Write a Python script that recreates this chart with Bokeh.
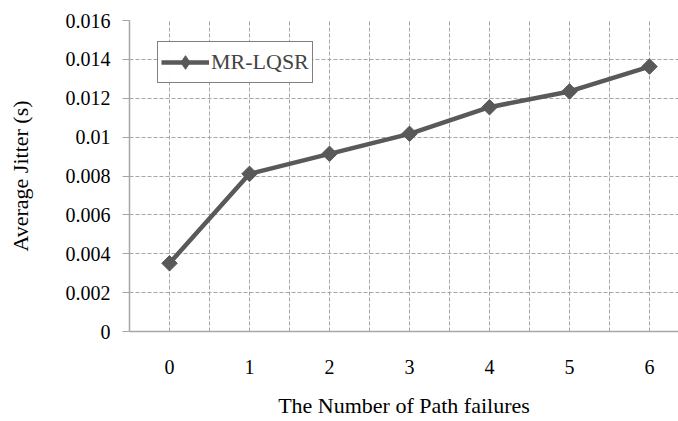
import math
from bokeh.plotting import figure
from bokeh.models import FixedTicker, Range1d, Legend, LegendItem, ColumnDataSource
from bokeh.embed import file_html
from bokeh.resources import INLINE

failures = [0, 1, 2, 3, 4, 5, 6]
jitter = [0.00351, 0.00811, 0.00914, 0.01017, 0.01154, 0.01235, 0.01363]
y_ticks = [0, 0.002, 0.004, 0.006, 0.008, 0.01, 0.012, 0.014, 0.016]
y_tick_labels = ["0", "0.002", "0.004", "0.006", "0.008", "0.01", "0.012", "0.014", "0.016"]
series_name = "MR-LQSR"

FONT = "Liberation Serif"
GRID = "#a6a6a6"
LINE = "#595959"

src = ColumnDataSource(dict(x=failures, y=jitter, ang=[math.pi / 4] * len(failures)))

p = figure(width=678, height=421, output_backend="svg", toolbar_location=None,
           x_range=Range1d(-0.5, 6.3625), y_range=Range1d(0, 0.016),
           min_border_left=129, min_border_top=20, min_border_right=0, min_border_bottom=90)
p.outline_line_color = None
p.background_fill_color = "white"

r_line = p.line("x", "y", source=src, line_color=LINE, line_width=4.5)
r_mark = p.scatter("x", "y", source=src, marker="square", angle="ang", size=11,
                   fill_color=LINE, line_color=LINE)
# legend-only diamond (hidden in the plot, drawn in the legend)
r_leg = p.scatter("x", "y", source=src, marker="diamond", size=15,
                  fill_color=LINE, line_color=LINE, visible=False)

# axes
p.xaxis.ticker = FixedTicker(ticks=failures)
p.xaxis.major_label_overrides = {f: str(f) for f in failures}
p.xaxis.major_tick_out = 0
p.xaxis.major_tick_in = 0
p.xaxis.minor_tick_out = 0
p.xaxis.minor_tick_in = 0
p.xaxis.major_label_standoff = 28
p.xaxis.axis_label = "The Number of Path failures"
p.xaxis.axis_label_standoff = 16
p.xaxis.axis_line_color = GRID
p.xaxis.axis_line_width = 1.5

p.yaxis.ticker = FixedTicker(ticks=y_ticks)
p.yaxis.major_label_overrides = {t: l for t, l in zip(y_ticks, y_tick_labels)}
p.yaxis.major_tick_out = 7
p.yaxis.major_tick_in = 0
p.yaxis.minor_tick_out = 0
p.yaxis.minor_tick_in = 0
p.yaxis.major_tick_line_color = GRID
p.yaxis.major_label_standoff = 12
p.yaxis.axis_label = "Average Jitter (s)"
p.yaxis.axis_label_standoff = 30
p.yaxis.axis_line_color = GRID
p.yaxis.axis_line_width = 1.5

for ax in (p.xaxis, p.yaxis):
    ax.major_label_text_font = FONT
    ax.major_label_text_font_size = "20px"
    ax.major_label_text_color = "black"
    ax.axis_label_text_font = FONT
    ax.axis_label_text_font_size = "22px"
    ax.axis_label_text_font_style = "normal"
    ax.axis_label_text_color = "black"

# grids
p.xgrid.ticker = FixedTicker(ticks=[f - 0.5 for f in failures] + [f for f in failures] + [6.5])
p.ygrid.ticker = FixedTicker(ticks=y_ticks)
for g in (p.xgrid, p.ygrid):
    g.grid_line_color = GRID
    g.grid_line_dash = "4 2"
    g.grid_line_width = 1

legend = Legend(items=[LegendItem(label=series_name, renderers=[r_line, r_leg], index=0)],
                location=(28, 248))
legend.label_text_font = FONT
legend.label_text_font_size = "22px"
legend.label_height = 34
legend.border_line_color = "black"
legend.border_line_width = 1.5
legend.glyph_width = 48
legend.glyph_height = 34
legend.padding = 3
legend.margin = 0
legend.label_standoff = 2
legend.spacing = 0
legend.inactive_fill_alpha = 0
p.add_layout(legend, "center")

open("out.html", "w").write(file_html(p, INLINE))
